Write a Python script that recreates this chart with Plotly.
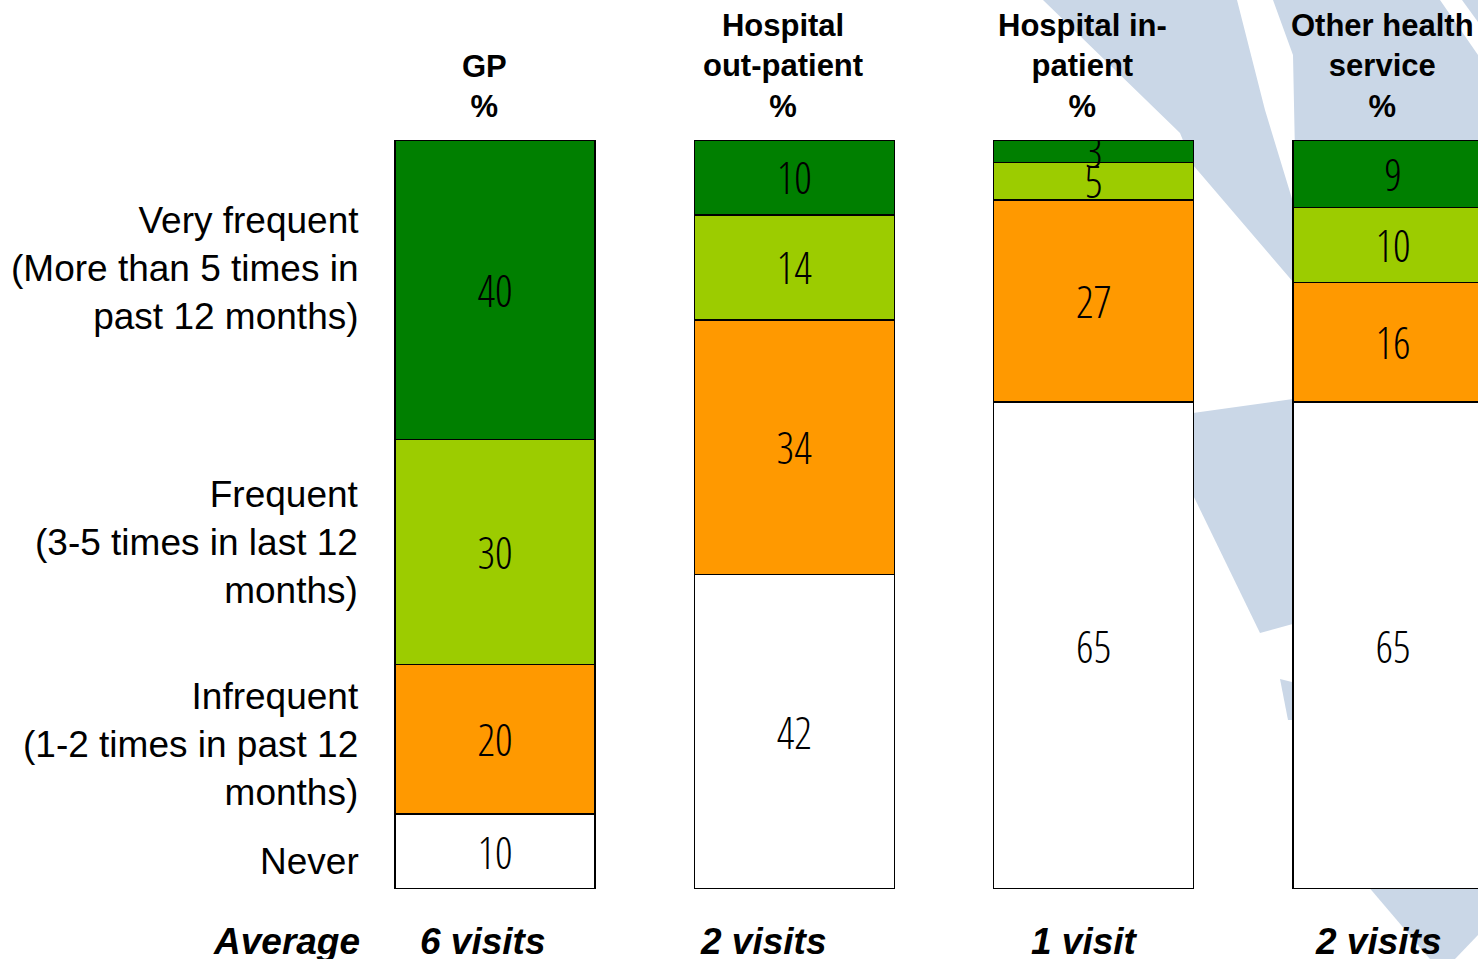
import plotly.graph_objects as go

# ---------------- data ----------------
services = ["GP", "Hospital out-patient", "Hospital in-patient", "Other health service"]
header_labels = ["GP<br>%", "Hospital<br>out-patient<br>%", "Hospital in-<br>patient<br>%",
                 "Other health<br>service<br>%"]
never = [10, 42, 65, 65]
infrequent = [20, 34, 27, 16]
frequent = [30, 14, 5, 10]
very_frequent = [40, 10, 3, 9]
frequency_labels = ["Never",
                    "Infrequent<br>(1-2 times in past 12<br>months)",
                    "Frequent<br>(3-5 times in last 12<br>months)",
                    "Very frequent<br>(More than 5 times in<br>past 12 months)"]
average_label = "Average"
average_visits = ["6 visits", "2 visits", "1 visit", "2 visits"]

# ---------------- style ----------------
colors = ["#ffffff", "#ff9900", "#9ccc00", "#007f00"]
series = [never, infrequent, frequent, very_frequent]
row_label_yshift = [-10, -5, 9, 21]
average_xshift = [-13, -31, -9, -15]
W, H = 1478, 959
TOP, BOTTOM = 140, 70
LABEL_FONT = ("Open Sans Condensed Light, Roboto Condensed, Liberation Sans Narrow, "
              "Arial Narrow, DejaVu Sans Condensed, sans-serif")
TEXT_FONT = "Liberation Sans, Arial, Helvetica, sans-serif"

fig = go.Figure()
for name, vals, col in zip(frequency_labels, series, colors):
    fig.add_trace(go.Bar(
        x=services, y=vals, name=name.split("<br>")[0],
        marker=dict(color=col, line=dict(color="black", width=1.5)),
        text=[str(v) for v in vals], textposition="inside",
        insidetextanchor="middle", constraintext="none", textangle=0,
        textfont=dict(family=LABEL_FONT, size=44, color="black"),
        showlegend=False, hoverinfo="skip",
    ))

annotations = []
# column headers
for s, lab in zip(services, header_labels):
    annotations.append(dict(x=s, xref="x", y=1, yref="paper", yanchor="bottom",
                            xanchor="center", xshift=-11, yshift=14, showarrow=False,
                            text="<b>" + lab + "</b>",
                            font=dict(family=TEXT_FONT, size=31, color="black")))
# row labels (centred on the GP segments)
cum = 0
for lab, vals, ys in zip(frequency_labels, series, row_label_yshift):
    mid = cum + vals[0] / 2
    cum += vals[0]
    annotations.append(dict(x=361 / W, xref="paper", y=mid, yref="y", xanchor="right",
                            yanchor="middle", align="right", yshift=ys, showarrow=False,
                            text=lab, font=dict(family=TEXT_FONT, size=37, color="black")))
# averages
annotations.append(dict(x=362 / W, xref="paper", y=0, yref="y", xanchor="right",
                        yanchor="middle", yshift=-52, showarrow=False,
                        text="<b><i>" + average_label + "</i></b>",
                        font=dict(family=TEXT_FONT, size=37, color="black")))
for s, lab, xs in zip(services, average_visits, average_xshift):
    annotations.append(dict(x=s, xref="x", y=0, yref="y", xanchor="center",
                            yanchor="middle", xshift=xs, yshift=-52, showarrow=False,
                            text="<b><i>" + lab + "</i></b>",
                            font=dict(family=TEXT_FONT, size=37, color="black")))

# decorative background swoosh (pixel polygons -> paper coords)
def poly(pts):
    plot_h = H - TOP - BOTTOM
    segs = []
    for i, (px, py) in enumerate(pts):
        xp = px / W
        yp = (H - BOTTOM - py) / plot_h
        segs.append(("M" if i == 0 else "L") + f"{xp:.5f},{yp:.5f}")
    return " ".join(segs) + " Z"

swoosh = [
    [(1043, 0), (1237, 0), (1265, 110), (1300, 225), (1300, 290), (1193, 165), (1180, 133)],
    [(1273, 0), (1440, 0), (1478, 55), (1478, 400), (1300, 400), (1293, 55)],
    [(1462, 0), (1478, 0), (1478, 22)],
    [(1193, 413), (1300, 398), (1300, 622), (1260, 633), (1193, 495)],
    [(1280, 679), (1300, 684), (1300, 720), (1288, 720)],
    [(1367, 885), (1478, 885), (1478, 935), (1455, 959), (1430, 959)],
]
shapes = [dict(type="path", path=poly(p), xref="paper", yref="paper", layer="below",
               fillcolor="#cad7e7", line=dict(width=0)) for p in swoosh]

fig.update_layout(
    width=W, height=H, barmode="stack", bargap=0.332,
    margin=dict(l=0, r=0, t=TOP, b=BOTTOM, pad=0),
    paper_bgcolor="white", plot_bgcolor="rgba(0,0,0,0)",
    xaxis=dict(range=[-1.654, 3.284], showticklabels=False, showgrid=False,
               zeroline=False, showline=False, ticks=""),
    yaxis=dict(range=[0, 100], showticklabels=False, showgrid=False,
               zeroline=False, showline=False, ticks=""),
    annotations=annotations, shapes=shapes,
)

fig.write_html("out.html", config={"displayModeBar": False},
               post_script="document.body.style.margin='0';document.body.style.overflow='hidden';")
